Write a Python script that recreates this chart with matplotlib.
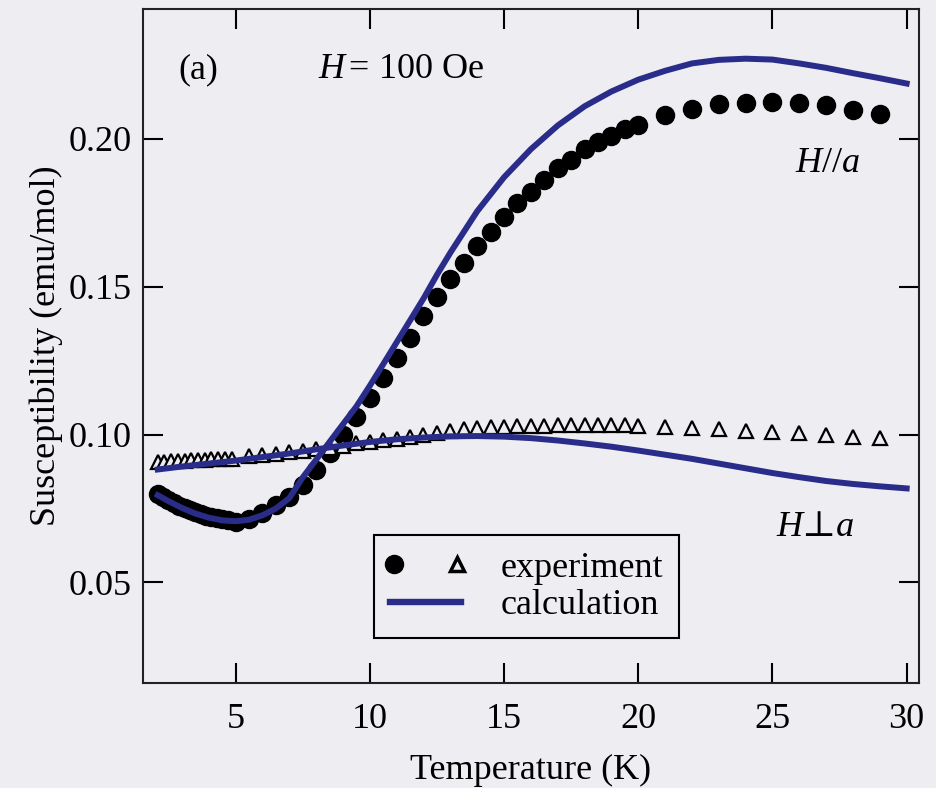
import matplotlib
matplotlib.use("Agg")
import matplotlib.pyplot as plt
from matplotlib.legend_handler import HandlerTuple
from matplotlib.lines import Line2D

plt.rcParams['font.family'] = ['Liberation Serif', 'DejaVu Serif']
plt.rcParams['mathtext.fontset'] = 'custom'
plt.rcParams['mathtext.rm'] = 'Liberation Serif'
plt.rcParams['mathtext.it'] = 'Liberation Serif:italic'

# ---- data: H // a (filled circles) ----
T_par = [2.1, 2.3, 2.5, 2.7, 2.9, 3.1, 3.3, 3.5, 3.7, 3.9, 4.1, 4.3, 4.5, 4.7,
         5.0, 5.5, 6.0, 6.5, 7.0, 7.5, 8.0, 8.5, 9.0, 9.5, 10.0, 10.5, 11.0, 11.5,
         12.0, 12.5, 13.0, 13.5, 14.0, 14.5, 15.0, 15.5, 16.0, 16.5, 17.0, 17.5,
         18.0, 18.5, 19.0, 19.5, 20.0, 21, 22, 23, 24, 25, 26, 27, 28, 29]
chi_par = [0.0798, 0.0788, 0.0778, 0.0769, 0.0760, 0.0752, 0.0745, 0.0738, 0.0731,
           0.0726, 0.0721, 0.0717, 0.0713, 0.0710,
           0.0706, 0.0714, 0.0735, 0.0761, 0.0790, 0.0829, 0.0879, 0.0937, 0.0998,
           0.1058, 0.1123, 0.1190, 0.1258, 0.1325, 0.1400, 0.1466, 0.1525, 0.1580,
           0.1636, 0.1684, 0.1737, 0.1782, 0.1819, 0.1862, 0.1900, 0.1930, 0.1964,
           0.1988, 0.2008, 0.2032, 0.2048, 0.2082, 0.2102, 0.2119, 0.2120, 0.2123,
           0.2120, 0.2113, 0.2099, 0.2085]

# ---- data: H perp a (open triangles) ----
T_perp = [2.1, 2.35, 2.6, 2.85, 3.1, 3.35, 3.6, 3.85, 4.1, 4.35, 4.6, 4.85,
          5.5, 6.0, 6.5, 7.0, 7.5, 8.0, 8.5, 9.0, 9.5, 10.0, 10.5, 11.0, 11.5,
          12.0, 12.5, 13.0, 13.5, 14.0, 14.5, 15.0, 15.5, 16.0, 16.5, 17.0, 17.5,
          18.0, 18.5, 19.0, 19.5, 20.0, 21, 22, 23, 24, 25, 26, 27, 28, 29]
chi_perp = [0.0907, 0.0908, 0.0910, 0.0911, 0.0912, 0.0913, 0.0914, 0.0915, 0.0916,
            0.0917, 0.0918, 0.0919,
            0.0926, 0.0930, 0.0935, 0.0940, 0.0945, 0.0950, 0.0956, 0.0963, 0.0970,
            0.0976, 0.0981, 0.0986, 0.0993, 0.1000, 0.1007, 0.1013, 0.1018, 0.1021,
            0.1025, 0.1027, 0.1029, 0.1030, 0.1030, 0.1031, 0.1031, 0.1031, 0.1031,
            0.1031, 0.1031, 0.1030, 0.1025, 0.1022, 0.1018, 0.1012, 0.1008, 0.1004,
            0.1000, 0.0993, 0.0989]

# ---- calculation curves ----
T_calc_par = [2.1, 2.5, 3.0, 3.5, 4.0, 4.5, 5.0, 5.5, 6.0, 6.5, 7.0, 7.5, 8.0, 8.5,
              9.0, 9.5, 10.0, 10.5, 11.0, 11.5, 12.0, 12.5, 13.0, 13.5, 14.0, 15.0,
              16.0, 17.0, 18.0, 19.0, 20.0, 21.0, 22.0, 23.0, 24.0, 25.0, 26.0,
              27.0, 28.0, 29.0, 30.0]
chi_calc_par = [0.0795, 0.0775, 0.0752, 0.0733, 0.0719, 0.0710, 0.0707, 0.0712,
                0.0727, 0.0750, 0.0785, 0.0855, 0.0915, 0.0975, 0.1035, 0.1095,
                0.1165, 0.1238, 0.1312, 0.1386, 0.1460, 0.1540, 0.1615, 0.1685,
                0.1755, 0.1870, 0.1965, 0.2045, 0.2110, 0.2160, 0.2200, 0.2230,
                0.2255, 0.2267, 0.2271, 0.2268, 0.2255, 0.2240, 0.2222, 0.2205,
                0.2187]
T_calc_perp = [2.1, 3, 4, 5, 6, 7, 8, 9, 10, 11, 12, 13, 14, 15, 16, 17, 18, 19,
               20, 21, 22, 23, 24, 25, 26, 27, 28, 29, 30]
chi_calc_perp = [0.0882, 0.0892, 0.0902, 0.0912, 0.0924, 0.0936, 0.0950, 0.0963,
                 0.0975, 0.0984, 0.0990, 0.0994, 0.0995, 0.0993, 0.0988, 0.0980,
                 0.0970, 0.0959, 0.0946, 0.0932, 0.0918, 0.0902, 0.0886, 0.0870,
                 0.0856, 0.0843, 0.0833, 0.0825, 0.0818]

x_ticks = [5, 10, 15, 20, 25, 30]
y_ticks = [0.05, 0.10, 0.15, 0.20]
y_ticklabels = ['0.05', '0.10', '0.15', '0.20']

BG = '#ededf2'
NAVY = '#2a2c8a'
FS = 26

fig = plt.figure(figsize=(9.36, 7.88), dpi=100, facecolor=BG)
ax = fig.add_axes([143/936, 1-683/788, (919-143)/936, (683-9)/788])
ax.set_facecolor(BG)

ax.plot(T_par, chi_par, 'o', color='black', ms=13, mec='black', zorder=2)
ax.plot(T_perp, chi_perp, '^', mfc=BG, mec='black', mew=1.6, ms=10.5, zorder=2)
ax.plot(T_calc_par, chi_calc_par, '-', color=NAVY, lw=4.3, zorder=3)
ax.plot(T_calc_perp, chi_calc_perp, '-', color=NAVY, lw=4.3, zorder=3)

ax.set_xlim(1.55, 30.46)
ax.set_ylim(0.016, 0.2439)
ax.set_xticks(x_ticks)
ax.set_yticks(y_ticks)
ax.set_yticklabels(y_ticklabels)
ax.tick_params(direction='in', length=14.4, width=1.5, top=True, right=True,
               labelsize=FS, colors='black')
ax.tick_params(axis='x', pad=14.5)
ax.tick_params(axis='y', pad=8)
for s in ax.spines.values():
    s.set_linewidth(1.5)
    s.set_color('#222222')

ax.set_xlabel('Temperature (K)', fontsize=FS, labelpad=12.5)
ax.set_ylabel('Susceptibility (emu/mol)', fontsize=FS, labelpad=4)

ax.text(178/936, 1-70/788, '(a)', transform=fig.transFigure, fontsize=FS,
        ha='left', va='center')
ax.text(318/936, 1-70/788, r'$H\,$= 100 Oe', transform=fig.transFigure, fontsize=FS,
        ha='left', va='center')
ax.text(860/936, 1-163/788, '$H$//$a$', transform=fig.transFigure, fontsize=FS,
        ha='right', va='center')
ax.text(855/936, 1-527/788, 'H\u22a5a', transform=fig.transFigure, fontsize=FS,
        ha='right', va='center', fontstyle='italic',
        family=['Liberation Serif', 'DejaVu Serif'])

h_c = Line2D([], [], ls='none', marker='o', color='black', ms=13)
h_t = Line2D([], [], ls='none', marker='^', mfc=BG, mec='black', mew=2.5, ms=10)
h_l = Line2D([], [], color=NAVY, lw=4.6)
leg = ax.legend([(h_c, h_t), h_l], ['experiment', 'calculation'],
                handler_map={tuple: HandlerTuple(ndivide=None, pad=1.5)},
                loc='upper left', bbox_to_anchor=(374/936, 1-535/788),
                bbox_transform=fig.transFigure, fontsize=FS, frameon=True,
                fancybox=False, edgecolor='black', facecolor=BG, framealpha=1,
                handlelength=1.95, handletextpad=1.1, borderpad=0.45,
                labelspacing=0.12, borderaxespad=0)
leg.get_frame().set_linewidth(1.5)

fig.savefig('out.png', dpi=100, facecolor=BG)
